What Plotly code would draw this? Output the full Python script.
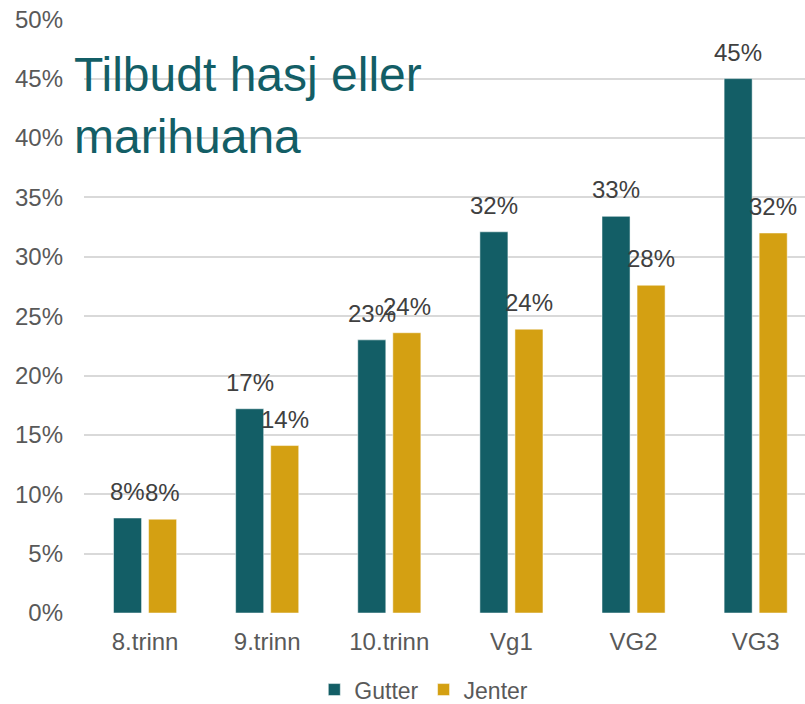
import plotly.graph_objects as go

categories = ["8.trinn", "9.trinn", "10.trinn", "Vg1", "VG2", "VG3"]
gutter = [0.080, 0.172, 0.230, 0.321, 0.334, 0.450]
jenter = [0.079, 0.141, 0.236, 0.239, 0.276, 0.320]
y_ticks = [0, 0.05, 0.10, 0.15, 0.20, 0.25, 0.30, 0.35, 0.40, 0.45, 0.50]
y_tick_labels = ["0%", "5%", "10%", "15%", "20%", "25%", "30%", "35%", "40%", "45%", "50%"]
title_text = "Tilbudt hasj eller<br>marihuana"

TEAL = "#135E66"
GOLD = "#D4A012"
GREY = "#595959"
LABEL = "#404040"
FONT = "Liberation Sans, Arial, sans-serif"

fig = go.Figure()
fig.add_trace(go.Bar(name="Gutter", x=categories, y=gutter,
                     marker=dict(color=TEAL, line=dict(color="white", width=0.5))))
fig.add_trace(go.Bar(name="Jenter", x=categories, y=jenter,
                     marker=dict(color=GOLD, line=dict(color="white", width=0.5))))

for series, shift in ((gutter, -17.5), (jenter, 17.5)):
    for c, v in zip(categories, series):
        fig.add_annotation(x=c, y=v, text=f"{v*100:.0f}%", showarrow=False,
                           xanchor="center", yanchor="bottom", xshift=shift, yshift=11,
                           font=dict(family=FONT, size=24, color=LABEL))

fig.add_annotation(xref="paper", yref="paper", x=-0.016, y=0.955,
                   xanchor="left", yanchor="top", align="left", showarrow=False,
                   text=title_text, font=dict(family=FONT, size=48, color=TEAL))

fig.update_layout(
    template="none",
    width=805, height=704,
    margin=dict(l=84.3, r=0, t=19.3, b=90.7, autoexpand=False),
    paper_bgcolor="white", plot_bgcolor="white",
    barmode="group", bargap=0.426, bargroupgap=0.2,
    font=dict(family=FONT, size=24, color=GREY),
    showlegend=True,
    legend=dict(orientation="h", xanchor="center", x=0.4713,
                yref="paper", yanchor="middle", y=-0.129,
                font=dict(family=FONT, size=23, color=GREY)),
    xaxis=dict(range=[-0.5, 5.404], showgrid=False, zeroline=False, showline=False,
               automargin=False,
               tickfont=dict(family=FONT, size=24, color=GREY), ticks="",
               ticklabelstandoff=12),
    yaxis=dict(range=[0, 0.5002], tickmode="array", tickvals=y_ticks, ticktext=y_tick_labels,
               showgrid=True, automargin=False, ticklabeloverflow="allow",
               gridcolor="#D9D9D9", gridwidth=1.5, zeroline=False, showline=False,
               tickfont=dict(family=FONT, size=24, color=GREY), ticks="",
               ticklabelstandoff=20),
)

fig.write_html("out.html", config={"displayModeBar": False},
               post_script="document.body.style.margin='0';document.body.style.overflow='hidden';")
